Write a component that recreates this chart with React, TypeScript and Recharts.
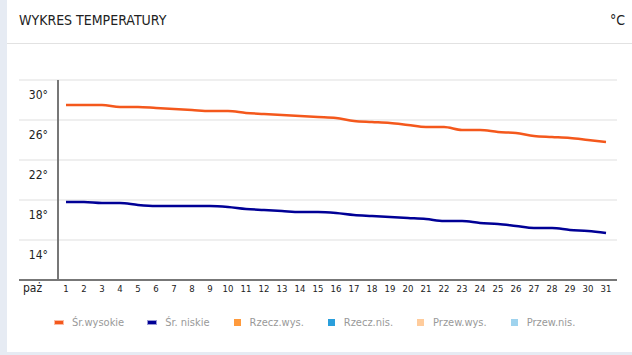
import { LineChart, Line, XAxis, YAxis, CartesianGrid, ReferenceLine } from 'recharts';

const monthLabel = 'paż';
const days = [1, 2, 3, 4, 5, 6, 7, 8, 9, 10, 11, 12, 13, 14, 15, 16, 17, 18, 19, 20, 21, 22, 23, 24, 25, 26, 27, 28, 29, 30, 31];
const avgHigh = [27.5, 27.5, 27.5, 27.3, 27.3, 27.2, 27.1, 27.0, 26.9, 26.9, 26.7, 26.6, 26.5, 26.4, 26.3, 26.2, 25.9, 25.8, 25.7, 25.5, 25.3, 25.3, 25.0, 25.0, 24.8, 24.7, 24.4, 24.3, 24.2, 24.0, 23.8];
const avgLow = [17.8, 17.8, 17.7, 17.7, 17.5, 17.4, 17.4, 17.4, 17.4, 17.3, 17.1, 17.0, 16.9, 16.8, 16.8, 16.7, 16.5, 16.4, 16.3, 16.2, 16.1, 15.9, 15.9, 15.7, 15.6, 15.4, 15.2, 15.2, 15.0, 14.9, 14.7];
const tempTicks = [14, 18, 22, 26, 30];
const seriesNames = ['Śr.wysokie', 'Śr. niskie', 'Rzecz.wys.', 'Rzecz.nis.', 'Przew.wys.', 'Przew.nis.'];
const seriesColors = ['#f4581c', '#000096', '#ff9a3c', '#2a9fdc', '#ffcc9c', '#9fd3ee'];
const seriesKinds = ['line', 'line', 'box', 'box', 'box', 'box'];

const data = days.map((d, i) => ({ day: d, high: avgHigh[i], low: avgLow[i] }));

const FONT = "'DejaVu Sans Condensed', 'DejaVu Sans', sans-serif";

// positions (axis units) for the month label and the vertical axis line
const monthTickPos = -0.86;
const yAxisPos = 0.556;

const XTick = ({ x, y, payload }: any) => {
  const isMonth = payload.value < 1;
  return (
    <text
      x={x}
      y={y + 4}
      textAnchor="middle"
      fill="#222"
      fontSize={isMonth ? 12 : 9.5}
      fontFamily={FONT}
    >
      {isMonth ? monthLabel : payload.value}
    </text>
  );
};

const YTick = ({ x, y, payload }: any) => (
  <text x={x + 21} y={y + 19} textAnchor="end" fill="#222" fontSize={12} fontFamily={FONT}>
    {payload.value}°
  </text>
);

export default function App() {
  return (
    <div style={{ position: 'fixed', left: 0, top: 0, width: 632, height: 355, background: '#e6ebf3', fontFamily: FONT }}>
      <div style={{ position: 'absolute', left: 7, top: 0, width: 625, height: 352, background: '#fff' }} />
      <div style={{ position: 'absolute', left: 19, top: 12, fontSize: 14, color: '#222' }}>WYKRES TEMPERATURY</div>
      <div style={{ position: 'absolute', right: 7, top: 12, fontSize: 14, color: '#222' }}>°C</div>
      <div style={{ position: 'absolute', left: 7, top: 43, width: 625, height: 1, background: '#e2e2e2' }} />
      <div style={{ position: 'absolute', left: 0, top: 0 }}>
        <LineChart width={632} height={355} data={data} margin={{ top: 80, right: 15, left: 19, bottom: 45 }}>
          <CartesianGrid vertical={false} stroke="#efefef" strokeWidth={2} />
          <XAxis
            dataKey="day"
            type="number"
            domain={[-1.611, 31.611]}
            allowDataOverflow
            ticks={[monthTickPos, ...days]}
            interval={0}
            height={30}
            tickLine={false}
            axisLine={{ stroke: '#777', strokeWidth: 2 }}
            tick={<XTick />}
          />
          <YAxis
            domain={[10, 30]}
            ticks={tempTicks}
            allowDataOverflow
            mirror
            axisLine={false}
            tickLine={false}
            tick={<YTick />}
          />
          <ReferenceLine x={yAxisPos} stroke="#777" strokeWidth={2} />
          <Line type="monotone" dataKey="high" name={seriesNames[0]} stroke={seriesColors[0]} strokeWidth={2.5} dot={false} isAnimationActive={false} />
          <Line type="monotone" dataKey="low" name={seriesNames[1]} stroke={seriesColors[1]} strokeWidth={2.5} dot={false} isAnimationActive={false} />
        </LineChart>
      </div>
      <div style={{ position: 'absolute', left: 55, top: 316, display: 'flex', alignItems: 'center', fontSize: 11, color: '#999', whiteSpace: 'nowrap' }}>
        {seriesNames.map((n, i) => (
          <div key={n} style={{ display: 'flex', alignItems: 'center', marginRight: 24 }}>
            {seriesKinds[i] === 'line' ? (
              <span style={{ display: 'inline-block', width: 8, height: 3, background: seriesColors[i], boxShadow: `0 0 0 1px ${seriesColors[i]}66`, marginRight: 9 }} />
            ) : (
              <span style={{ display: 'inline-block', width: 7, height: 7, background: seriesColors[i], marginRight: 9 }} />
            )}
            <span>{n}</span>
          </div>
        ))}
      </div>
    </div>
  );
}
